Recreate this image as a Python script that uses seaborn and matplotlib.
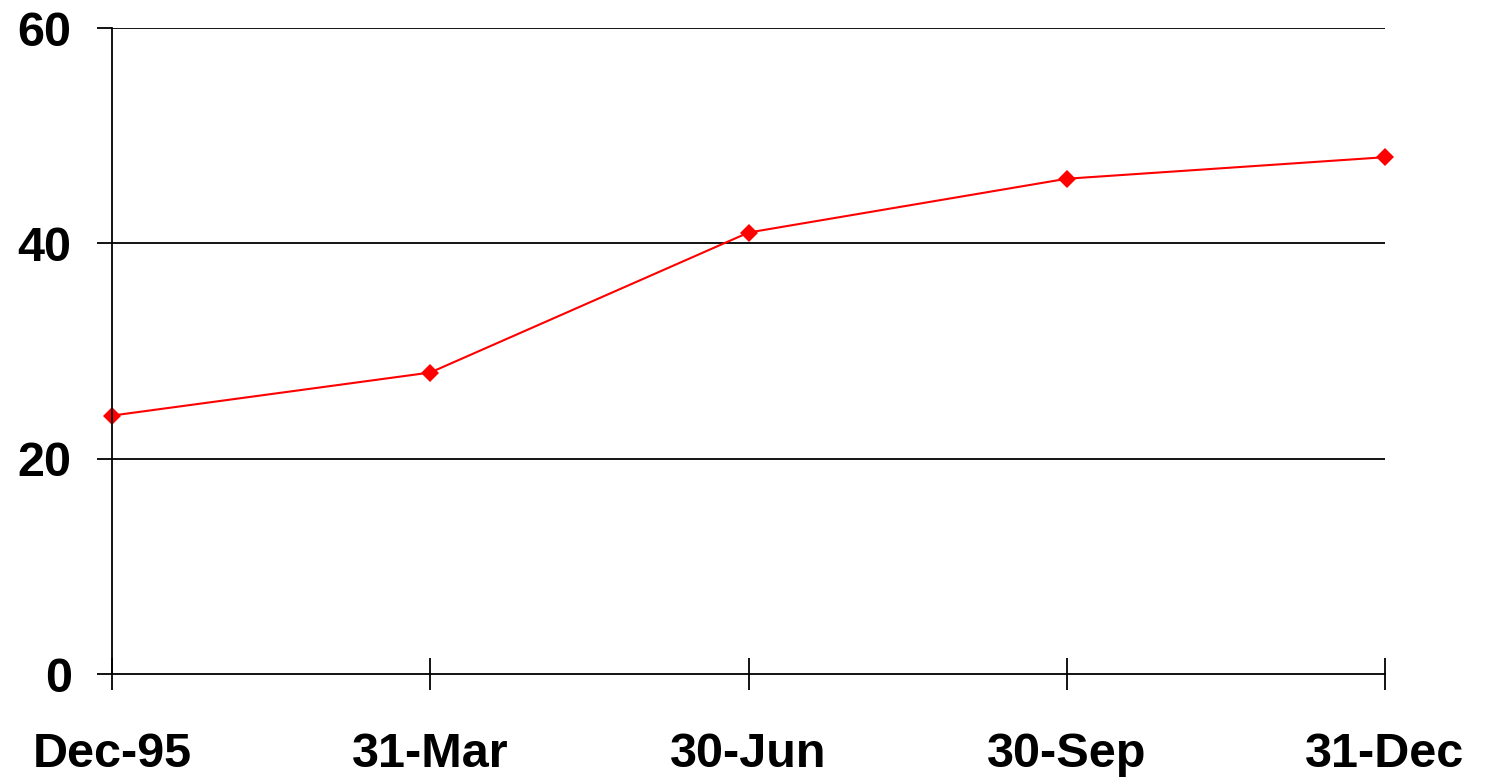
import matplotlib
matplotlib.use("Agg")
import matplotlib.pyplot as plt
import seaborn as sns
import pandas as pd

categories = ["Dec-95", "31-Mar", "30-Jun", "30-Sep", "31-Dec"]
values = [24, 28, 41, 46, 48]
yticks = [0, 20, 40, 60]

sns.set_theme(style="white")
plt.rcParams['font.family'] = ['Liberation Sans', 'DejaVu Sans']
plt.rcParams['text.color'] = 'black'
plt.rcParams['xtick.color'] = 'black'
plt.rcParams['ytick.color'] = 'black'

df = pd.DataFrame({"date": categories, "value": values})

fig = plt.figure(figsize=(14.85, 7.79), dpi=100)
ax = fig.add_axes([112/1485, (779-674)/779, (1385-112)/1485, (674-28)/779])

sns.lineplot(data=df, x="date", y="value", ax=ax, color="#ff0000", linewidth=1.5,
             marker="D", markersize=9, markeredgewidth=0, sort=False, clip_on=False)

ax.set_xlim(0, len(categories) - 1)
ax.set_ylim(0, 60)
ax.set_yticks(yticks)
ax.set_xticks(range(len(categories)))
ax.set_xticklabels(categories)
ax.set_xlabel("")
ax.set_ylabel("")

for y in yticks[1:]:
    ax.axhline(y, color="black", linewidth=1.3, zorder=0, xmin=0, xmax=1)

for s in ["top", "right"]:
    ax.spines[s].set_visible(False)
for s in ["left", "bottom"]:
    ax.spines[s].set_color("black")
    ax.spines[s].set_linewidth(1.3)

ax.tick_params(axis="x", direction="inout", length=23, width=1.3, colors="black",
               labelsize=35, pad=30, bottom=True)
ax.tick_params(axis="y", direction="out", length=11, width=1.3, colors="black",
               labelsize=35, pad=18, left=True)
for lbl in ax.get_xticklabels() + ax.get_yticklabels():
    lbl.set_fontweight("bold")
    lbl.set_color("black")

fig.savefig("out.png", dpi=100, facecolor="white")
